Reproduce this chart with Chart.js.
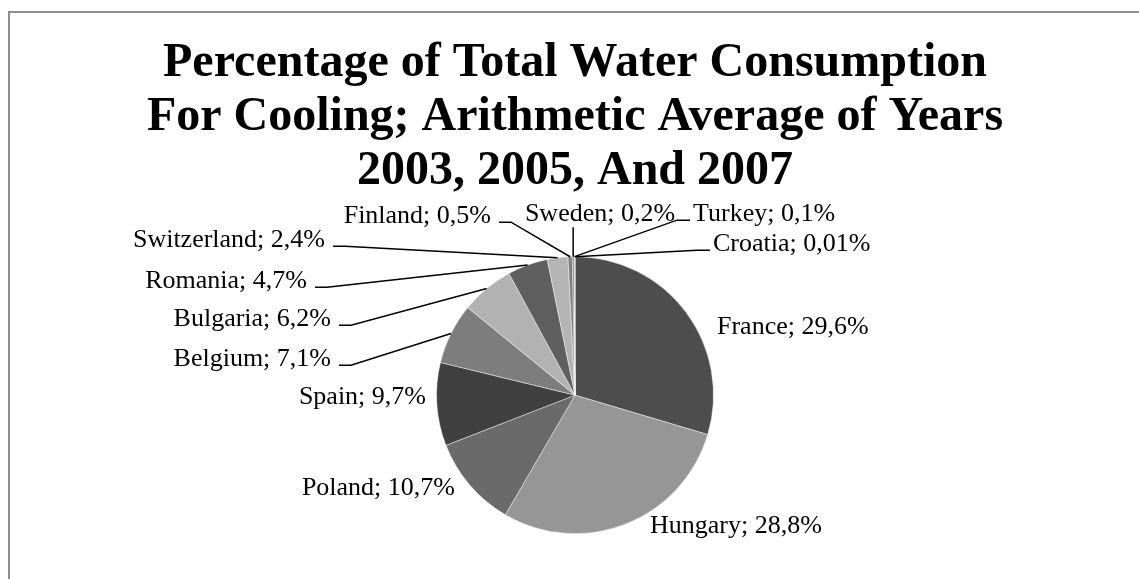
<!DOCTYPE html>
<html>
<head>
<meta charset="utf-8">
<script src="https://cdn.jsdelivr.net/npm/chart.js@4/dist/chart.umd.min.js"></script>
<style>
  html, body { margin: 0; padding: 0; background: #fff; overflow: hidden; }
  #frame {
    position: absolute; left: 8px; top: 11px;
    width: 2000px; height: 2000px;
    border: 2px solid #8e8e8e;
  }
  #pie { position: absolute; left: 0; top: 0; }
</style>
</head>
<body>
<div id="frame"></div>
<canvas id="pie" width="1139" height="579"></canvas>
<script>
// ── Data ───────────────────────────────────────────────────
const countries = ['France', 'Hungary', 'Poland', 'Spain', 'Belgium', 'Bulgaria',
                   'Romania', 'Switzerland', 'Finland', 'Sweden', 'Turkey', 'Croatia'];
const shares = [29.6, 28.8, 10.7, 9.7, 7.1, 6.2, 4.7, 2.4, 0.5, 0.2, 0.1, 0.01];
const titleLines = [
  'Percentage of Total Water Consumption',
  'For Cooling; Arithmetic Average of Years',
  '2003, 2005, And 2007'
];

// ── Styling ────────────────────────────────────────────────
const sliceColors = ['#4d4d4d', '#969696', '#6a6a6a', '#404040', '#7d7d7d', '#b2b2b2',
                     '#5f5f5f', '#b4b4b4', '#808080', '#6e6e6e', '#9a9a9a', '#555555'];

// label placement relative to pie centre: [dx, dy, align, leader]
const labelLayout = [
  [142, -68, 'left', null],
  [75, 131, 'left', null],
  [-120, 93, 'right', null],
  [-149, 2, 'right', null],
  [-244, -36, 'right', 'stub'],
  [-244, -76, 'right', 'stub'],
  [-268, -114, 'right', 'stub'],
  [-250, -155, 'right', 'stub'],
  [-84, -179, 'right', 'stub'],
  [25, -181, 'center', 'vertical'],
  [118, -181, 'left', 'stub'],
  [138, -151, 'left', 'stub']
];

const serif = "'Liberation Serif', 'Times New Roman', serif";

const fmt = v => String(v).replace('.', ',') + '%';

// ── Labels with leader lines ───────────────────────────────
const pieLabels = {
  id: 'pieLabels',
  afterDatasetsDraw(chart) {
    const ctx = chart.ctx;
    const arcs = chart.getDatasetMeta(0).data;
    ctx.save();
    ctx.font = '26px ' + serif;
    ctx.fillStyle = '#000';
    ctx.strokeStyle = '#000';
    ctx.lineWidth = 1.5;
    ctx.textBaseline = 'middle';
    arcs.forEach((arc, i) => {
      const { x, y, startAngle, endAngle, outerRadius } = arc.getProps(
        ['x', 'y', 'startAngle', 'endAngle', 'outerRadius'], true);
      const [dx, dy, align, leader] = labelLayout[i];
      const tx = x + dx, ty = y + dy;
      const text = countries[i] + '; ' + fmt(shares[i]);
      ctx.textAlign = align;
      ctx.fillText(text, tx, ty);

      if (!leader) return;
      const mid = (startAngle + endAngle) / 2;
      const ex = x + Math.cos(mid) * outerRadius;
      const ey = y + Math.sin(mid) * outerRadius;
      ctx.beginPath();
      if (leader === 'vertical') {
        ctx.moveTo(ex, ty + 13);
        ctx.lineTo(ex, ey);
      } else if (align === 'right') {
        ctx.moveTo(tx + 8, ty + 6);
        ctx.lineTo(tx + 20, ty + 6);
        ctx.lineTo(ex, ey);
      } else {
        ctx.moveTo(tx - 3, ty + 6);
        ctx.lineTo(tx - 16, ty + 6);
        ctx.lineTo(ex, ey);
      }
      ctx.stroke();
    });
    ctx.restore();
  }
};

new Chart(document.getElementById('pie').getContext('2d'), {
  type: 'pie',
  data: {
    labels: countries,
    datasets: [{
      data: shares,
      backgroundColor: sliceColors,
      borderColor: 'rgba(255,255,255,0.6)',
      borderWidth: 0.75
    }]
  },
  options: {
    responsive: false,
    animation: false,
    layout: { padding: { left: 11, bottom: 45 } },
    plugins: {
      legend: { display: false },
      tooltip: { enabled: false },
      title: {
        display: true,
        text: titleLines,
        color: '#000',
        font: { family: serif, size: 48, weight: 'bold', lineHeight: 1.12 },
        padding: { top: 37, bottom: 58 }
      }
    }
  },
  plugins: [pieLabels]
});
</script>
</body>
</html>
